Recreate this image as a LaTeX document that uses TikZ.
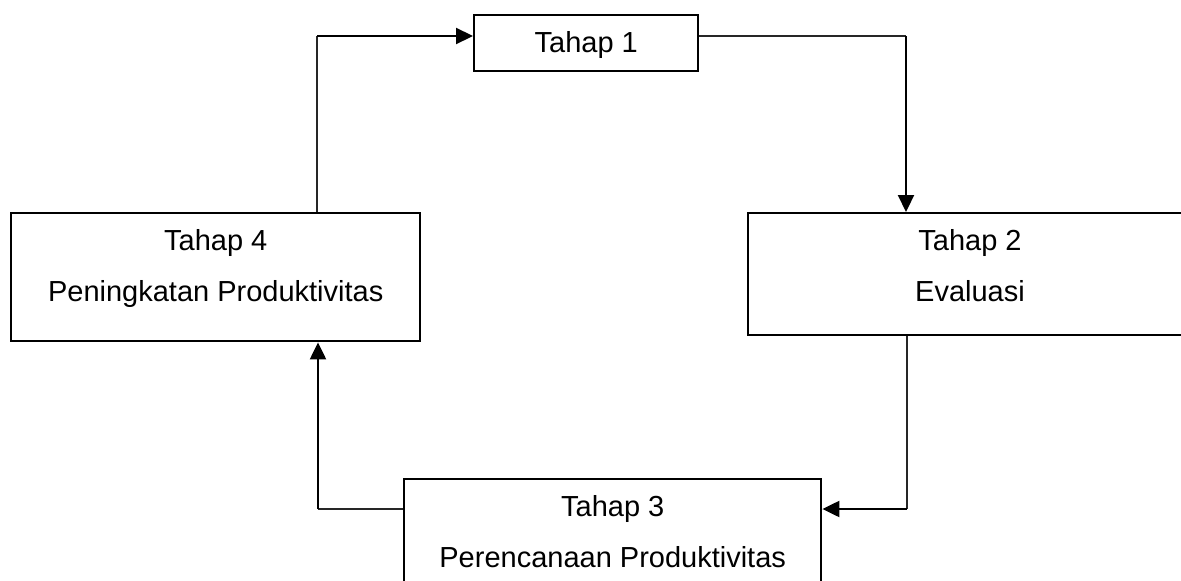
\documentclass[tikz,border=0pt]{standalone}
\usepackage{fontspec}
\setmainfont{Liberation Sans}
\usetikzlibrary{arrows.meta,calc}
\tikzset{
  stagebox/.style={draw=black, line width=2.4pt, fill=none, inner sep=0pt, anchor=north west},
  lbl/.style={inner sep=0pt, anchor=base, font=\fontsize{29}{34}\selectfont},
  thinline/.style={draw=black!85, line width=1.1pt},
  thickarrow/.style={draw=black, line width=2.2pt, -{Triangle[length=17pt,width=16pt]}},
}
\begin{document}
\begin{tikzpicture}[x=1pt,y=-1pt]
\useasboundingbox (0,0) rectangle (1181,581);
\clip (0,0) rectangle (1181,581);
% boxes
\node[stagebox, minimum width=224pt, minimum height=56pt] (t1) at (473,14) {};
\node[stagebox, minimum width=446pt, minimum height=122pt] (t2) at (747,212) {};
\node[stagebox, minimum width=417pt, minimum height=128pt] (t3) at (403,478) {};
\node[stagebox, minimum width=409pt, minimum height=128pt] (t4) at (10,212) {};
% labels
\node[lbl] (l1) at ($(t1.north)+(0,38)$) {Tahap 1};
\node[lbl] (l2a) at (970,250) {Tahap 2};
\node[lbl] (l2b) at (970,301) {Evaluasi};
\node[lbl] (l3a) at ($(t3.north)+(0,38)$) {Tahap 3};
\node[lbl] (l3b) at ($(t3.north)+(0,89)$) {Perencanaan Produktivitas};
\node[lbl] (l4a) at ($(t4.north)+(0,38)$) {Tahap 4};
\node[lbl] (l4b) at ($(t4.north)+(0,89)$) {Peningkatan Produktivitas};
% bend coordinates
\coordinate (c1) at (906,36);
\coordinate (c2) at (907,509);
\coordinate (c3) at (318,509);
\coordinate (c4) at (317,36);
% connectors
\path[thinline] (t1.east |- c1) -- (c1);
\path[thickarrow] (c1) -- (c1 |- t2.north);
\path[thinline] (c2 |- t2.south) -- (c2);
\path[thickarrow] (c2) -- (c2 -| t3.east);
\path[thinline] (t3.west |- c3) -- (c3);
\path[thickarrow] (c3) -- (c3 |- t4.south);
\path[thinline] (c4 |- t4.north) -- (c4);
\path[thickarrow] (c4) -- (c4 -| t1.west);
\end{tikzpicture}
\end{document}
